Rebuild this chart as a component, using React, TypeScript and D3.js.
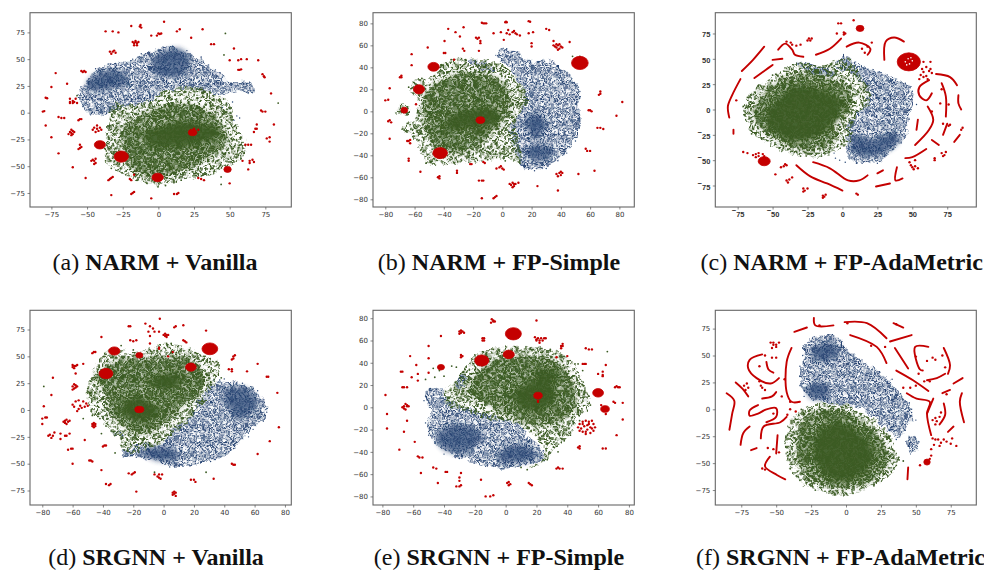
import { useEffect, useRef } from 'react';
import * as d3 from 'd3';

type P = [number, number];
type Blob = [number, number, number, number]; // centre x, y and spread x, y, in data units

// t-SNE clouds hold thousands of points which can't be read one by one, so the dense
// parts are outlines with a stipple fill, and the points that
// can be told apart (red clusters, stragglers at the cloud edges) are listed.

const ticksAX = [-75, -50, -25, 0, 25, 50, 75];
const ticksAY = [-75, -50, -25, 0, 25, 50, 75];
const ticks80 = [-80, -60, -40, -20, 0, 20, 40, 60, 80];

// (a) NARM + Vanilla
const aGreenOuter: P[] = [[4, 20], [25, 24], [40, 16], [51, 8], [53, -6], [57, -18], [62, -32], [58, -42], [50, -50], [38, -57], [20, -62], [0, -68], [-15, -63], [-30, -54], [-37, -43], [-37, -25], [-34, -5], [-32, 8], [-20, 7], [-10, 9], [-3, 14]];
const aGreenMid: P[] = [[0, 5], [20, 8], [38, -2], [46, -15], [48, -28], [35, -42], [20, -52], [0, -60], [-15, -55], [-25, -35], [-25, -15], [-15, -5]];
const aGreenCore: P[] = [[10, -10], [25, -8], [40, -15], [43, -20], [30, -28], [10, -32], [-5, -31], [-10, -22], [0, -14]];
const aBlueOuter: P[] = [[10, 61], [-8, 56], [-20, 48], [-40, 43], [-50, 30], [-56, 15], [-48, 0], [-38, -2], [-25, 5], [-10, 8], [5, 20], [25, 22], [45, 16], [52, 20], [67, 19], [66, 28], [50, 29], [42, 38], [28, 50]];
const aBlueDense: P[] = [[-48, 32], [-30, 40], [-20, 30], [-35, 22], [-50, 22]];
const aBlueDense2: P[] = [[0, 55], [15, 60], [22, 50], [18, 36], [0, 35], [-5, 45]];
const aGreenDots: P[] = [[-37, -45], [-33, -52], [44, -60], [44, -67], [56, -40], [58, -43], [60, -38], [53, -46], [-38, -28], [-36, -20], [-34, -12], [-15, -63], [-8, -66], [5, -68], [16, -63], [25, -57], [36, -55], [47, -38], [54, -12], [-57, 16], [84, 9], [47, 74], [46, 54]];
const aBlueDots: P[] = [[-48, 3], [-52, 8], [-55, 14], [-53, 22], [-44, 41], [-30, 46], [-18, 50], [-12, 55], [0, 58], [10, 62], [20, 58], [30, 52], [40, 40], [60, 27], [67, 21], [55, -3], [57, -5], [48, 8], [52, 10], [45, 5], [53, -7], [50, 4]];
const aRedDots: P[] = [[4, 85], [-19, 81], [-13, 80.5], [-12.5, 82], [-12, 79.5], [-37, 76], [-32, 76], [-28, 75], [-5, 72], [-1, 72], [0, 74], [1, 73.5], [2, 74], [13, 76], [15, 78], [23, 70], [31, 78], [37, 64], [39, 64], [-18, 66], [-17, 65], [-16, 66], [-15, 65], [-14, 66], [-17, 63], [-16, 67], [-15, 63], [-34, 57], [-32, 57], [-33, 55], [-31, 58], [-30, 56], [53, 60], [50, 49], [56, 49], [58, 50], [62, 50], [70, 49], [57, 40], [58, 40.5], [56, 40], [73, 36], [74, 34], [74.5, 33], [79, 18], [-54, 39], [-53, 38], [-52, 39], [-51, 38], [-72, 37], [-75, 24], [-64, 27], [-79, 14], [-78, 13.5], [-62, 13], [-58, 13], [-62, 10], [-60, 11], [-59, 10], [-57, 9], [-62, 9], [-60, 9], [-81, 1], [-80, 1.5], [-70, -4], [-68, -5], [-66, -5], [-56, -7], [-55, -6], [-54, -6], [-79, -12], [-75, -23], [-62, -18], [-61, -19], [-60, -17], [-63, -20], [-60, -20], [-61, -16], [-59, -18], [-61, -21], [-45, -14], [-43, -15], [-42, -17], [-44, -18], [-41, -14], [-40, -16], [-46, -16], [-43, -12], [-55, -30], [-54, -32], [-55, -33], [-56, -34], [-70, -38], [-60, -51], [-45, -45], [-44, -47], [-46, -44], [-44, -43], [-47, -45], [-45, -48], [-51, -61], [-34, -62], [-33, -61], [-32, -60], [-35, -63], [-33, -77], [-19, -76], [-18, -75], [-17, -74], [-5, -80], [-20, -62], [-19, -63], [-17, -58], [11, -76], [13, -76], [14, -75], [28, -61], [30, -62], [32, -63], [50, -66], [63, -53], [59, -45], [64, -45], [66, -44], [67, -46], [64, -47], [61, -30], [63, -30], [65, -30], [67, -18], [68, -15], [69, -15], [69, -11], [72, 2], [73, 1], [75, 1], [81, -11], [76, -24], [78, -23], [78, -27], [25, -15], [28, -16]];
const aRedBlobs: Blob[] = [[-41, -30, 3.9, 3.9], [-26, -41, 5, 5.2], [-0.5, -60.5, 4, 4], [48.5, -53, 2.6, 2.8], [24, -18.5, 3, 3]];

// (b) NARM + FP-Simple
const bGreenOuter: P[] = [[-64, 20], [-60, 28], [-52, 30], [-45, 36], [-35, 47], [-20, 47], [-5, 45], [7, 35], [13, 22], [18, 10], [13, 0], [9, -15], [11, -25], [12, -47], [5, -44], [-15, -45], [-35, -48], [-52, -47], [-55, -38], [-60, -25], [-68, -16], [-60, -5], [-58, 10]];
const bGreenSmall: P[] = [[-72, 2], [-69, 6], [-64, 5], [-63, 0], [-66, -3], [-71, -3]];
const bGreenMid: P[] = [[-45, 25], [-25, 35], [-5, 30], [5, 15], [5, 0], [-5, -15], [-15, -30], [-35, -38], [-50, -25], [-53, -5], [-52, 15]];
const bGreenCore: P[] = [[-35, -4], [-15, 3], [-5, 2], [-2, -7], [-10, -14], [-22, -16], [-40, -14]];
const bBlueOuter: P[] = [[-5, 52], [0, 57], [10, 53], [20, 45], [30, 47], [40, 40], [48, 30], [53, 18], [52, 5], [53, -15], [50, -25], [45, -35], [35, -47], [25, -53], [15, -52], [10, -40], [6, -25], [5, -15], [12, -2], [15, 10], [12, 25], [5, 40]];
const bBlueStrip: P[] = [[-23, 46], [-10, 44], [-5, 38], [-8, 36], [-20, 42]];
const bBlueDense: P[] = [[18, -3], [28, -5], [30, -15], [22, -25], [16, -14]];
const bBlueDense2: P[] = [[15, -35], [25, -30], [35, -35], [30, -45], [18, -42]];
const bGreenDots: P[] = [[-52, -47], [-47, -43], [-60, -15], [-68, -16], [-63, -12], [-25, 47], [-35, 47], [-44, 35], [-55, 30], [-64, 22], [12, -47], [2, -45], [-10, -44], [-20, -42], [-40, -42], [8, -20], [14, 8], [15, 13], [53, 50], [48, 50]];
const bBlueDots: P[] = [[-2, 55], [3, 57], [12, 52], [25, 45], [35, 44], [46, 33], [52, 22], [53, 18], [51, 8], [53, -13], [50, -27], [44, -38], [38, -45], [30, -52], [22, -54], [15, -50], [11, -35], [6, -20]];
const bRedDots: P[] = [[-13, 80], [-14, 80.5], [-12, 80], [-11, 80], [2.5, 81.5], [3, 81], [2, 81], [18, 82], [19, 81.5], [30, 75], [32, 74], [-37, 75], [-32, 72], [-29, 68], [-26.5, 76.5], [-6, 71], [-1, 72], [3, 71], [4, 74], [5, 70], [7, 72], [8, 73], [9, 71], [10, 70], [12, 69], [18, 71], [21, 72], [1, 65], [-18, 67], [-17, 66], [-16, 67], [-15, 64], [-15, 62], [-39.5, 64], [-27, 57], [-26, 55], [-16, 55], [20, 62], [20, 59], [35, 64], [46, 63], [35, 60], [37, 58], [38, 60], [39, 57], [40, 59], [37, 61], [39, 61], [41, 58], [38, 56], [36, 59], [-62, 52], [-51, 58], [-40, 53], [-39, 53], [-33, 47], [-62, 42], [-70, 31], [-69, 31], [-69, 32.5], [-77, 21], [-80, 10], [-78, 10.5], [-59, 6.5], [67, 18], [67, 16], [66, 15], [82, 8.5], [59, 1], [60, 1], [61, 0], [78, -4], [65, -15], [67, -15], [69, -16], [-78, -9], [-77, -8], [-76, -10], [-77, -25], [-64, -27], [-63, -26], [-63, -29], [-65, -27], [-64, -43], [-64, -45], [-56, -55], [-44, -60], [-43, -61], [-43, -59], [-31, -54], [-31, -56], [-22, -48], [-21, -48], [-13, -46], [-12, -47], [-4, -52], [-2, -51], [-1, -50], [0, -52], [1, -53], [-16, -63], [-14, -63], [-13, -63], [-14, -79], [-6, -79], [-5, -78], [-4, -77], [5, -66], [7, -65], [8, -68], [9, -66], [11, -65], [6, -67], [8, -66], [7, -69], [24, -68], [38, -72], [37, -57], [39, -56], [40, -58], [41, -56], [38, -59], [40, -55], [52, -57], [63, -54], [57, -34], [58, -36], [60, -36]];
const bRedBlobs: Blob[] = [[53, 44, 5.7, 6], [-47, 40.5, 3.9, 4], [-57, 20, 3.8, 4.2], [-67, 1, 2.3, 2.7], [-15, -8, 3, 3], [-42.5, -38, 5, 5]];

// (c) NARM + FP-AdaMetric
const cGreenOuter: P[] = [[-71, 1], [-65, 18], [-55, 28], [-45, 37], [-33, 45], [-15, 44], [-3, 50], [5, 50], [12, 35], [20, 15], [18, 5], [8, -10], [6, -30], [-5, -42], [-20, -47], [-40, -42], [-55, -32], [-65, -22], [-70, -8]];
const cGreenMid: P[] = [[-63, 3], [-47, 27], [-30, 35], [-10, 32], [6, 15], [5, 0], [-5, -15], [-5, -30], [-25, -39], [-45, -31], [-62, -12]];
const cGreenCore: P[] = [[-55, -8], [-45, 12], [-35, 22], [-15, 20], [0, 6], [-5, -10], [-15, -24], [-35, -31], [-48, -23]];
const cBlueOuter: P[] = [[0, 54], [8, 48], [20, 40], [35, 32], [48, 22], [52, 8], [47, -8], [45, -28], [35, -42], [25, -52], [12, -52], [3, -46], [3, -30], [5, -10], [15, 3], [18, 15], [10, 32], [3, 38], [-5, 42]];
const cBlueStrip: P[] = [[-32, 46], [-15, 42], [-5, 36], [-8, 32], [-20, 36], [-32, 43]];
const cBlueDense: P[] = [[8, -25], [20, -30], [38, -22], [40, -32], [22, -46], [8, -42]];
const cGreenDots: P[] = [[-71, 3], [-70, -5], [-65, -24], [-62, -25], [-58, -28], [-45, -38], [-30, -46], [-15, -46], [-68, 12], [-60, 24], [-50, 34], [10, 33], [15, 22], [20, 14], [-2, 48], [4, 50]];
const cBlueDots: P[] = [[-6, -43], [-5, -48], [-2, -50], [2, -52], [10, -53], [25, -53], [30, -46], [42, -33], [45, -26], [49, 0], [53, 5], [50, 18], [45, 26], [32, 34], [-2, -15]];
const cRedLines: P[][] = [
  [[-72, 38], [-64, 49], [-56, 62]],
  [[-63, 31], [-55, 39], [-50, 44]],
  [[-50, 49], [-43, 50]],
  [[-46, 59], [-41, 65], [-36, 59], [-34, 54], [-28, 52]],
  [[-19, 54], [-9, 60], [-1, 70]],
  [[3, 62], [12, 66], [20, 60], [18, 54]],
  [[30, 49], [31, 67], [37, 71], [44, 67]],
  [[-73, 30], [-79, 14], [-82, 3], [-81, -8]],
  [[-78, -20], [-78, -24]],
  [[67, 35], [77, 32], [82, 24]],
  [[71, 26], [74, 13], [74, -7]],
  [[62, 29], [55, 22], [55, 14], [60, 9], [64, 16]],
  [[83, 14], [83, 6], [85, 0]],
  [[61, 3], [65, -10], [62, -20], [52, -35]],
  [[54, -10], [53, -20]],
  [[75, -14], [72, -25]],
  [[84, -25], [80, -32]],
  [[64, -30], [69, -35]],
  [[60, -39], [50, -47], [45, -48]],
  [[-33, -55], [-23, -66], [-11, -73], [0, -80]],
  [[-21, -52], [-9, -58], [4, -70], [12, -70], [18, -65]],
  [[24, -76], [34, -73]],
  [[25, -63], [29, -60]],
  [[39, -57], [38, -70], [43, -68]],
];
const cRedDots: P[] = [[-40, 67], [-37, 66], [-33, 63], [-30, 64], [-36, 64], [-24, 70], [-23, 68], [-22, 70], [-25, 68], [-4, 75], [1, 74], [1, 76], [2, 75], [-3, 85], [-1, 85], [8, 88], [14, 60], [16, 56], [18, 62], [21, 66], [58, 37], [56, 34], [60, 33], [62, 38], [57, 40], [60, 42], [63, 40], [64, 36], [53, 47], [58, 47], [63, 47], [55, 30], [58, 32], [61, 30], [-76, 9], [72, -14], [76, -16], [77, -15], [86, -18], [85, -20], [71, 20], [76, 5], [70, 6], [64, -2], [71, -43], [73, -45], [74, -42], [72, -46], [49, -55], [50, -57], [52, -56], [51, -59], [54, -58], [48, -52], [52, -50], [66, -50], [66, -48], [-42, -56], [-41, -54], [-44, -57], [-40, -55], [-48, -64], [-40, -70], [-38, -69], [-36, -67], [-39, -72], [-28, -78], [-27, -80], [-25, -78], [-28, -81], [-14, -85], [-13, -86], [-12, -84], [-14, -87], [10, -83], [11, -84], [-71, -42], [-68, -43], [-64, -45], [-62, -44], [-60, -43], [-57, -44], [-62, -47], [-60, -46], [-56, -46]];
const cRedBlobs: Blob[] = [[47.5, 47, 8.3, 8.9], [-56, -51, 4.3, 4.5], [12.6, 80, 2.8, 3]];
const cBlobGaps: P[] = [[45, 47], [47, 50], [50, 48], [48, 45], [46, 44], [49, 51]];

// (d) SRGNN + Vanilla
const dGreenOuter: P[] = [[-50, 20], [-44, 43], [-35, 58], [-20, 53], [2, 62], [18, 56], [36, 44], [35, 30], [27, 11], [18, -8], [8, -20], [-3, -33], [-27, -39], [-28, -30], [-35, -20], [-42, -6], [-47, -5]];
const dGreenMid: P[] = [[-45, 32], [-30, 45], [-10, 48], [15, 48], [25, 38], [25, 20], [10, 0], [0, -12], [-12, -22], [-27, -15], [-35, 0], [-38, 15]];
const dGreenCore: P[] = [[-28, 5], [-20, 12], [-10, 8], [-2, 0], [-8, -8], [-18, -10], [-26, -4]];
const dGreenCore2: P[] = [[-5, 32], [8, 33], [12, 25], [0, 19], [-8, 24]];
const dBlueOuter: P[] = [[23, 8], [35, 26], [50, 25], [61, 17], [68, -2], [59, -17], [50, -30], [42, -42], [31, -47], [9, -53], [-11, -45], [-27, -42], [-28, -39], [-13, -30], [-2, -33], [6, -17], [17, -8]];
const dBlueStrip: P[] = [[-35, -20], [-28, -22], [-26, -26], [-30, -25]];
const dBlueDense: P[] = [[40, 18], [55, 20], [62, 5], [50, -8], [42, 3]];
const dBlueDense2: P[] = [[-15, -38], [5, -35], [10, -45], [-5, -47]];
const dGreenDots: P[] = [[-79, 22], [-48, 27], [-50, 20], [-53, -8], [-47, -5], [-42, -8], [-38, -15], [-41, -22], [-28, -33], [-32, -40], [-38, 52], [-28, 60], [-20, 56], [2, 62], [5, 62], [17, 56], [36, 44], [38, 30], [28, -58], [-6, -58], [35, 45], [30, 32]];
const dBlueDots: P[] = [[23, 9], [37, 28], [40, 29], [52, 25], [62, 18], [68, -2], [66, 3], [59, -18], [56, -25], [47, -33], [31, -48], [10, -52], [4, -53], [-18, -44], [-27, -42], [12, -18], [18, -16], [33, 28]];
const dRedDots: P[] = [[-2.5, 85], [-12, 80.5], [-22, 78], [-23, 78], [-9, 78], [-7, 76], [7, 77], [8, 78], [13, 79], [28, 74], [-10, 73], [-6, 73], [-3, 73], [-9, 69], [-41, 68], [0, 70], [1, 71], [2, 68], [2, 70], [1, 69], [3, 70], [-22, 65], [-20, 64], [-18, 65], [13, 65], [14, 64], [15, 63], [-9, 62], [-3, 58], [-3, 57], [6, 54], [3, 50], [46, 50], [45, 47], [46, 48], [47, 51], [-47, 53], [-46, 54], [-45, 54], [-60, 42], [-59, 41], [-58, 41], [-60, 40], [-57, 42], [-59, 39], [-53, 43], [62, 43], [43, 38], [45, 38], [45, 36], [55, 36], [68, 31], [69, 31], [-58, 34], [-73, 30], [-60, 22], [-59, 24], [-58, 23], [-57, 22], [-59, 20], [-60, 19], [-58, 21], [-74, 14], [75, 16], [-79, 3.5], [-60, 5], [-58, 8], [-56, 9], [-53, 8], [-51, 6], [-59, 3], [-55, 4], [-52, 3], [-50, 4], [-56, 1], [-54, 2], [-57, -1], [-80, -8], [-78, -7], [-77, -7], [-66, -11], [-65, -10], [-64, -9], [-63, -11], [-64, -13], [-62, -10], [-65, -12], [-47, -13], [-46, -14], [-45, -15], [-46, -16], [-47, -15], [-45, -13], [-46, -12], [-80, -13], [76, -16], [-76, -24], [-75, -23], [-73, -24], [-74, -26], [-72, -21], [-68, -22], [-68, -27], [-65, -24], [-64, -24], [-62, -22], [-52, -28], [-40, -34], [-39, -33], [-38, -33], [70, -29], [-63, -37], [-61, -36], [-60, -36], [-60, -50], [-49, -47], [-48, -47], [-47, -48], [-41, -56], [62, -41], [45, -50], [46, -51], [47, -51], [-23, -59], [-21, -60], [-20, -59], [-19, -58], [-6, -60], [-4, -62], [-3, -60], [-2, -64], [-1, -60], [-3, -63], [-38, -69], [-36, -70], [-35, -69], [18, -65], [20, -65], [21, -67], [33, -64], [-18, -76], [6, -79], [7, -78], [8, -77], [8, -80], [7, -76], [6, -77]];
const dRedBlobs: Blob[] = [[30.5, 57, 5.2, 5.5], [-32.5, 55, 3.7, 3.8], [-16, 51, 2.3, 2.6], [18, 40, 3.5, 3.8], [-38, 34, 4.6, 4.8], [-16, 0.5, 3, 3]];

// (e) SRGNN + FP-Simple
const eGreenOuter: P[] = [[-20, 47], [-1, 54], [16, 54], [29, 52], [42, 43], [47, 32], [53, 14], [55, 0], [47, -8], [42, -25], [31, -37], [27, -47], [14, -56], [26, -40], [9, -16], [-10, -10], [-24, -4], [-38, 3], [-40, 14], [-32, 25], [-27, 35]];
const eGreenMid: P[] = [[-15, 35], [0, 45], [20, 45], [35, 38], [44, 20], [45, 0], [30, -15], [15, -15], [0, -5], [-15, 5], [-25, 15]];
const eGreenCore: P[] = [[5, 12], [15, 22], [30, 22], [32, 10], [28, 0], [15, -3], [8, 3]];
const eGreenCore2: P[] = [[18, 30], [30, 33], [35, 28], [25, 22]];
const eBlueOuter: P[] = [[-52, 11], [-49, 17], [-41.5, 16], [-36, 5], [-23, -1], [-10, -7], [7, -14], [16, -28], [24, -37], [24, -47], [16, -50], [-1, -55], [-14, -52], [-27, -46], [-38, -40], [-47, -29], [-51, -16], [-48, -4], [-52, 5]];
const eBlueSmall: P[] = [[-33, 18], [-28, 30], [-25, 28], [-30, 16]];
const eBlueDense: P[] = [[-45, -25], [-30, -15], [-15, -25], [-25, -40], [-40, -38]];
const eBlueDense2: P[] = [[0, -35], [15, -35], [20, -45], [5, -50], [-5, -47]];
const eGreenDots: P[] = [[-52, 25], [-46, 27], [-40, 28], [-35, 37], [-32, 36], [-20, 47], [-8, 52], [29, 52], [36, 47], [45, 39], [47, 39], [50, 33], [54, 10], [55, 2], [48, -12], [42, -25], [38, -30], [34, -40], [27, -47], [14, -56], [10, -54], [66, 50], [-47, 35], [-43, 33]];
const eBlueDots: P[] = [[-52, 10], [-49, 17], [-45, 16], [-53, 6], [-52, -14], [-50, -25], [-46, -32], [-40, -42], [-30, -46], [-20, -49], [-13, -53], [-3, -55], [8, -53], [18, -50], [26, -44], [25, -48], [10, -15]];
const eRedDots: P[] = [[-9, 79], [-8, 77], [-9.5, 76], [-8, 78], [-7, 77], [20, 78], [-30, 68], [-29, 67], [-28, 68], [-30, 66], [-27, 67], [-29, 69], [-42, 64], [-15, 62], [-15, 60], [-14, 62], [-14, 60], [19, 63], [20, 61], [21, 62], [22, 60], [23, 62], [24, 60], [22, 58], [25, 62], [26, 62], [20, 60], [36, 55], [37, 57], [36, 53], [37, 55], [-50, 55], [52, 53], [54, 52], [56, 52], [-29, 47], [-29, 45], [-28, 46], [-62, 46], [-50, 44], [40, 46], [33, 45], [50, 39], [51, 39], [52, 39], [-58, 38], [65, 38], [-68, 32], [-67, 32], [-50, 31], [-57, 30], [-61, 27], [-57, 24], [60, 30], [63, 32], [63, 29], [63, 28], [-67, 18], [-66, 18], [-64, 18], [71, 18], [73, 18], [74, 18], [72, 19], [-78, 11], [70, 5], [71, 4], [76, 4], [-67, 0], [-66, 1], [-65, 3], [-64, 2], [-66, -1], [-65, -2], [-64, 1], [-63, 1], [-77, -6], [-64, -12], [76, -11], [-77, -19], [-66, -22], [-59, -31], [72, -25], [48, -35], [48, -37], [47, -36], [-69, -38], [63, -37], [65, -37], [-57, -44], [-56, -45], [-54, -45], [-47, -54], [-45, -55], [-39, -58], [-38, -58], [-55, -59], [-29, -59], [-30, -63], [-30, -66], [33, -55], [34, -54], [35, -55], [37, -55], [-16, -65], [-44, -68], [1, -68], [2, -67], [2, -70], [3, -69], [15, -68], [16, -69], [17, -70], [-32, -71], [-30, -71], [-29, -70], [-13, -80], [-10, -80], [-8, -79], [47, -18], [48, -15], [50, -13], [52, -12], [54, -13], [56, -12], [57, -15], [58, -18], [57, -21], [55, -23], [52, -24], [50, -22], [48, -21], [51, -17], [53, -16], [55, -18], [53, -20], [50, -15], [52, -22], [56, -19], [54, -15], [49, -19], [65, -6], [62, 2], [21, 6], [21, 5]];
const eRedBlobs: Blob[] = [[5, 66, 5.2, 5.5], [-15.5, 42, 4.6, 5], [2, 47.5, 3.6, 3.8], [-42, 36, 2.3, 2.5], [60, 13, 3.5, 3.8], [21, 10.5, 2.8, 3], [64.5, -1.5, 2.8, 3]];

// (f) SRGNN + FP-AdaMetric
const fGreenOuter: P[] = [[-42.5, -21], [-38, -7], [-28, 2.5], [-14, 5.5], [0.5, 4], [15, -7], [27, -18], [34, -33], [37, -49], [31.5, -61], [15, -73], [-2, -80], [-21, -75], [-35, -64], [-42.5, -46]];
const fGreenMid: P[] = [[-35, -25], [-25, -5], [-5, -1], [12, -12], [25, -28], [30, -48], [20, -65], [0, -73], [-20, -68], [-33, -52]];
const fGreenCore: P[] = [[-22, -25], [-8, -12], [8, -20], [20, -42], [12, -60], [-6, -66], [-22, -50]];
const fBlueOuter: P[] = [[-29, 61], [-22, 67.5], [-7, 67.5], [3, 53.5], [20, 38], [31.5, 26], [40, 13], [48, -8], [43, -18], [37.5, -27], [31.5, -21], [22, -10], [8, 2.5], [-14, 5.5], [-28, 13], [-33, 26], [-30.5, 44]];
const fBlueSmall: P[] = [[44.5, -25], [50.5, -27], [52, -33], [47, -42.5], [44.5, -36]];
const fBlueDense: P[] = [[-25, 55], [-10, 62], [-5, 50], [-20, 45]];
const fBlueDense2: P[] = [[-28, 20], [-15, 25], [-12, 12], [-25, 10]];
const fGreenDots: P[] = [[-43, -25], [-42, -40], [-40, -55], [-33, -66], [-22, -75], [-10, -78], [5, -78], [20, -71], [30, -62], [36, -52], [38, -47], [41, -48], [29, -23], [-32, 0], [10, -4]];
const fBlueDots: P[] = [[-33, 40], [-31, 50], [-24, 66], [-15, 66], [3, 51], [24, 35], [33, 28], [37, 14], [44, 5], [47, 0], [50, -10], [47, -3], [36, -28], [-33, 22], [-30, 12], [23, 24], [32, 13]];
const fRedLines: P[][] = [
  [[-85.5, 15], [-80, 8], [-81.5, -4], [-83.5, -19]],
  [[-79, 25], [-74, 19], [-70, 12]],
  [[-60, 51], [-69, 46], [-70, 38], [-64, 29], [-54, 24], [-48, 29]],
  [[-57, 44], [-55.5, 37], [-52, 34]],
  [[-60, 10], [-53, 12], [-50, 16]],
  [[-63, 4], [-69, -1], [-69, -6], [-63, -4], [-57, 0], [-50, 1], [-50, -7], [-57, -12]],
  [[-42.5, -7], [-47, -12], [-59, -16], [-61, -27]],
  [[-69, -16], [-73.5, -22], [-75.5, -33]],
  [[-64, -36], [-68, -38]],
  [[-49, -24], [-50, -41]],
  [[-54.5, -44], [-58, -53], [-49.5, -61], [-43.5, -65]],
  [[-39, 57], [-42.5, 44], [-42.5, 16], [-39, 7], [-33, 7]],
  [[-37, 72], [-28, 76]],
  [[-23, 85], [-22, 78], [-9, 78]],
  [[-1, 81], [15, 80], [29, 66]],
  [[3, 69], [22, 58], [29, 43]],
  [[31.5, 63], [47, 69]],
  [[34, 80], [41, 76]],
  [[35, 57], [44.5, 38]],
  [[59, 58], [49.5, 58], [53, 37], [55, 36]],
  [[36, 36], [48, 27], [59, 17]],
  [[58, 27], [65, 29], [71, 33]],
  [[70, 57], [74.5, 41], [73, 33]],
  [[43.5, 15], [50.5, 10], [60, 7], [58, -4], [61, -24]],
  [[58, -4], [62.5, 10]],
  [[70, 5.5], [71, -5], [67, -14]],
  [[83, 15], [81.5, 7], [84.5, -12]],
  [[69, 15], [74.5, 18]],
  [[77, 24], [83.5, 29]],
  [[77, -16], [73, -21]],
  [[44.5, -54], [44, -65]],
];
const fRedDots: P[] = [[-54, 62], [-52, 60], [-50, 60], [-53, 57], [-50, 58], [-52, 62], [-48, 62], [-62, 40], [-58, 50], [-53, 48], [-50, 48], [-44, 28], [-73, 22], [-71, 24], [-72, 18], [-70, 20], [-62, 26], [-61, 22], [-60, 20], [-58, 18], [-46, 12], [-40, 7], [-42, -5], [-52, -4], [-36, -2], [-40, 0], [-48, -40], [-52, -37], [-56, -36], [-60, -55], [-58, -56], [50, 49], [58, 45], [62, 48], [64, 46], [52, 33], [56, 26], [50, 22], [46, 20], [60, 26], [64, -8], [65, -11], [62, -10], [68, -3], [67, -7], [64, -14], [62, -27], [64, -28], [66, -28], [70, -28], [72, -30], [68, -31], [76, -27], [75, -32], [79, -34], [67, -34], [63, -33], [53, -52], [60, -46], [61, -43], [61, -37], [41, 20], [69, 50], [71, 39], [72, 14], [1, 80], [28, 58], [-19, 78], [18, 59], [36, 79]];
const fRedBlobs: Blob[] = [[58, -49, 2.3, 2.8]];

// tile for the stipple fill
const stippleTile: P[] = [[2, 3], [7, 1], [12, 4], [18, 2], [22, 5], [4, 8], [9, 7], [15, 8], [20, 9], [1, 12], [6, 13], [11, 11], [17, 13], [23, 12], [3, 17], [8, 18], [13, 16], [19, 18], [22, 16], [5, 22], [10, 21], [15, 22], [20, 23], [0, 20], [14, 12], [8, 4], [17, 6]];

const GREEN = '#3a5a22';
const BLUE = '#22406f';
const RED = '#c40000';

interface Panel {
  id: string;
  prefix: string;
  title: string;
  frame: [number, number, number, number]; // left, top, right, bottom
  xDomain: P;
  yDomain: P;
  xTicks: number[];
  yTicks: number[];
  titleX: number;
  titleY: number;
  boldLabels?: boolean;
  blueOuter: P[][];
  blueDense: P[][];
  greenOuter: P[][];
  greenMid: P[];
  greenCore: P[][];
  greenDots: P[];
  blueDots: P[];
  redDots: P[];
  redLines?: P[][];
  redBlobs: Blob[];
  blobGaps?: P[];
}

const panels: Panel[] = [
  { id: 'a', prefix: '(a) ', title: 'NARM + Vanilla', frame: [30, 12.7, 291.3, 207], xDomain: [-90, 93.2], yDomain: [-88.1, 93.4], xTicks: ticksAX, yTicks: ticksAY, titleX: 155, titleY: 270,
    blueOuter: [aBlueOuter], blueDense: [aBlueDense, aBlueDense2], greenOuter: [aGreenOuter], greenMid: aGreenMid, greenCore: [aGreenCore], greenDots: aGreenDots, blueDots: aBlueDots, redDots: aRedDots, redBlobs: aRedBlobs },
  { id: 'b', prefix: '(b) ', title: 'NARM + FP-Simple', frame: [373, 12.7, 634.3, 207], xDomain: [-88.4, 90.2], yDomain: [-87, 89.7], xTicks: ticks80, yTicks: ticks80, titleX: 499, titleY: 270,
    blueOuter: [bBlueOuter, bBlueStrip], blueDense: [bBlueDense, bBlueDense2], greenOuter: [bGreenOuter, bGreenSmall], greenMid: bGreenMid, greenCore: [bGreenCore], greenDots: bGreenDots, blueDots: bBlueDots, redDots: bRedDots, redBlobs: bRedBlobs },
  { id: 'c', prefix: '(c) ', title: 'NARM + FP-AdaMetric', frame: [715.3, 12.7, 976.3, 207], xDomain: [-91, 95.8], yDomain: [-96.2, 95.5], xTicks: ticksAX, yTicks: ticksAY, titleX: 841.7, titleY: 270, boldLabels: true,
    blueOuter: [cBlueOuter, cBlueStrip], blueDense: [cBlueDense], greenOuter: [cGreenOuter], greenMid: cGreenMid, greenCore: [cGreenCore], greenDots: cGreenDots, blueDots: cBlueDots, redDots: cRedDots, redLines: cRedLines, redBlobs: cRedBlobs, blobGaps: cBlobGaps },
  { id: 'd', prefix: '(d) ', title: 'SRGNN + Vanilla', frame: [30, 310.3, 291.3, 505], xDomain: [-88.1, 84.2], yDomain: [-88.5, 92.9], xTicks: ticks80, yTicks: ticksAY, titleX: 156, titleY: 564.5,
    blueOuter: [dBlueOuter, dBlueStrip], blueDense: [dBlueDense, dBlueDense2], greenOuter: [dGreenOuter], greenMid: dGreenMid, greenCore: [dGreenCore, dGreenCore2], greenDots: dGreenDots, blueDots: dBlueDots, redDots: dRedDots, redBlobs: dRedBlobs },
  { id: 'e', prefix: '(e) ', title: 'SRGNN + FP-Simple', frame: [373, 310.3, 634.3, 505], xDomain: [-86.1, 83.5], yDomain: [-87.7, 87.1], xTicks: ticks80, yTicks: ticks80, titleX: 499, titleY: 564.5,
    blueOuter: [eBlueOuter, eBlueSmall], blueDense: [eBlueDense, eBlueDense2], greenOuter: [eGreenOuter], greenMid: eGreenMid, greenCore: [eGreenCore, eGreenCore2], greenDots: eGreenDots, blueDots: eBlueDots, redDots: eRedDots, redBlobs: eRedBlobs },
  { id: 'f', prefix: '(f) ', title: 'SRGNN + FP-AdaMetric', frame: [715.3, 310.3, 976.3, 505], xDomain: [-93.6, 93.3], yDomain: [-88.9, 92], xTicks: ticksAY, yTicks: ticksAY, titleX: 840.5, titleY: 564.5,
    blueOuter: [fBlueOuter, fBlueSmall], blueDense: [fBlueDense, fBlueDense2], greenOuter: [fGreenOuter], greenMid: fGreenMid, greenCore: [fGreenCore], greenDots: fGreenDots, blueDots: fBlueDots, redDots: fRedDots, redLines: fRedLines, redBlobs: fRedBlobs },
];

const addStipple = (defs: any, id: string, color: string, scale: number, r: number) => {
  const pattern = defs.append('pattern')
    .attr('id', id)
    .attr('patternUnits', 'userSpaceOnUse')
    .attr('width', 24)
    .attr('height', 24)
    .attr('patternTransform', `scale(${scale})`);
  pattern.selectAll('circle').data(stippleTile).enter().append('circle')
    .attr('cx', (d: P) => d[0])
    .attr('cy', (d: P) => d[1])
    .attr('r', r)
    .attr('fill', color);
};

const drawPanel = (svg: any, p: Panel) => {
  const [left, top, right, bottom] = p.frame;
  const x = d3.scaleLinear().domain(p.xDomain).range([left, right]);
  const y = d3.scaleLinear().domain(p.yDomain).range([bottom, top]);
  const area = d3.line<P>().x(d => x(d[0])).y(d => y(d[1])).curve(d3.curveCatmullRomClosed);
  const trail = d3.line<P>().x(d => x(d[0])).y(d => y(d[1])).curve(d3.curveCatmullRom);

  const marks = svg.append('g').attr('filter', 'url(#soft)');

  const fillAll = (shapes: P[][], fill: string, filter?: string, opacity = 1) => {
    const g = marks.append('g').attr('opacity', opacity);
    if (filter) g.attr('filter', filter);
    g.selectAll('path').data(shapes).enter().append('path').attr('d', (d: P[]) => area(d)).attr('fill', fill);
  };
  const dots = (pts: P[], color: string, r: number) => {
    marks.append('g').selectAll('circle').data(pts).enter().append('circle')
      .attr('cx', (d: P) => x(d[0]))
      .attr('cy', (d: P) => y(d[1]))
      .attr('r', r)
      .attr('fill', color);
  };

  fillAll(p.blueOuter, 'url(#blueSparse)', 'url(#scatter)');
  fillAll(p.blueDense, BLUE, 'url(#edge)', 0.7);
  dots(p.blueDots, BLUE, 0.7);
  fillAll(p.greenOuter, 'url(#greenSparse)', 'url(#scatter)');
  fillAll([p.greenMid], GREEN, 'url(#edge)', 0.3);
  fillAll([p.greenMid], 'url(#greenMid)', 'url(#scatter)');
  fillAll(p.greenCore, GREEN, 'url(#edge)', 0.9);
  dots(p.greenDots, GREEN, 0.9);

  if (p.redLines) {
    marks.append('g').selectAll('path').data(p.redLines).enter().append('path')
      .attr('d', (d: P[]) => trail(d))
      .attr('fill', 'none')
      .attr('stroke', RED)
      .attr('stroke-width', 1.9)
      .attr('stroke-linecap', 'round');
  }
  dots(p.redDots, RED, 1.2);
  marks.append('g').selectAll('ellipse').data(p.redBlobs).enter().append('ellipse')
    .attr('cx', (d: Blob) => x(d[0]))
    .attr('cy', (d: Blob) => y(d[1]))
    .attr('rx', (d: Blob) => Math.abs(x(d[2]) - x(0)))
    .attr('ry', (d: Blob) => Math.abs(y(d[3]) - y(0)))
    .attr('fill', RED)
    .attr('stroke', RED)
    .attr('stroke-width', 0.8);
  if (p.blobGaps) dots(p.blobGaps, '#fff', 0.8);

  svg.append('rect')
    .attr('x', left).attr('y', top)
    .attr('width', right - left).attr('height', bottom - top)
    .attr('fill', 'none').attr('stroke', '#666').attr('stroke-width', 1.1);

  const xAxis = d3.axisBottom(x).tickValues(p.xTicks).tickSize(2.5).tickPadding(3);
  const yAxis = d3.axisLeft(y).tickValues(p.yTicks).tickSize(2.5).tickPadding(2.5);
  const gx = svg.append('g').attr('transform', `translate(0, ${bottom})`).call(xAxis);
  const gy = svg.append('g').attr('transform', `translate(${left}, 0)`).call(yAxis);
  [gx, gy].forEach(g => {
    g.select('.domain').remove();
    g.selectAll('line').attr('stroke', '#555').attr('stroke-width', 0.7);
    g.selectAll('text')
      .attr('fill', '#333')
      .style('font-family', '"DejaVu Sans"')
      .style('font-size', '7px');
  });

  // panel (c): bold labels sitting below their ticks, with the minus sign raised
  if (p.boldLabels) {
    [gx, gy].forEach((g, i) => {
      const shift = i === 0 ? 4 : 3.5;
      g.selectAll('text').each(function (this: any, d: any) {
        const t = d3.select(this);
        t.text(null).style('font-weight', 'bold').style('font-family', '"Liberation Sans"').style('font-size', '7.5px');
        if (d < 0) t.append('tspan').attr('dy', shift - 4).text('\u2212');
        t.append('tspan').attr('dy', d < 0 ? 4 : shift).text(String(Math.abs(d)));
      });
    });
  }

  const title = svg.append('text')
    .attr('x', p.titleX)
    .attr('y', p.titleY)
    .attr('text-anchor', 'middle')
    .style('font-family', '"Liberation Serif"')
    .style('font-size', '24px')
    .attr('fill', '#111');
  title.append('tspan').text(p.prefix);
  title.append('tspan').style('font-weight', 'bold').text(p.title);
};

const App = () => {
  const ref = useRef<SVGSVGElement | null>(null);

  useEffect(() => {
    const svg = d3.select(ref.current);
    svg.selectAll('*').remove();

    const defs = svg.append('defs');
    addStipple(defs, 'greenSparse', GREEN, 0.85, 1.7);
    addStipple(defs, 'greenMid', GREEN, 0.65, 2.0);
    addStipple(defs, 'blueSparse', BLUE, 0.55, 1.9);
    defs.append('filter').attr('id', 'soft').append('feGaussianBlur').attr('stdDeviation', 0.25);
    defs.append('filter').attr('id', 'edge').append('feGaussianBlur').attr('stdDeviation', 2.5);

    // roughens the stipple so it loses the tile's regular rows and hard outline
    const scatter = defs.append('filter').attr('id', 'scatter')
      .attr('x', '-5%').attr('y', '-5%').attr('width', '110%').attr('height', '110%');
    scatter.append('feTurbulence')
      .attr('type', 'fractalNoise').attr('baseFrequency', 0.18).attr('numOctaves', 2).attr('seed', 4).attr('result', 'noise');
    scatter.append('feDisplacementMap')
      .attr('in', 'SourceGraphic').attr('in2', 'noise').attr('scale', 8)
      .attr('xChannelSelector', 'R').attr('yChannelSelector', 'G');

    panels.forEach(p => drawPanel(svg, p));
  }, []);

  return <svg ref={ref} width="984" height="570" style={{ position: 'absolute', left: 0, top: 0, background: '#fff' }}></svg>;
};

export default App;
